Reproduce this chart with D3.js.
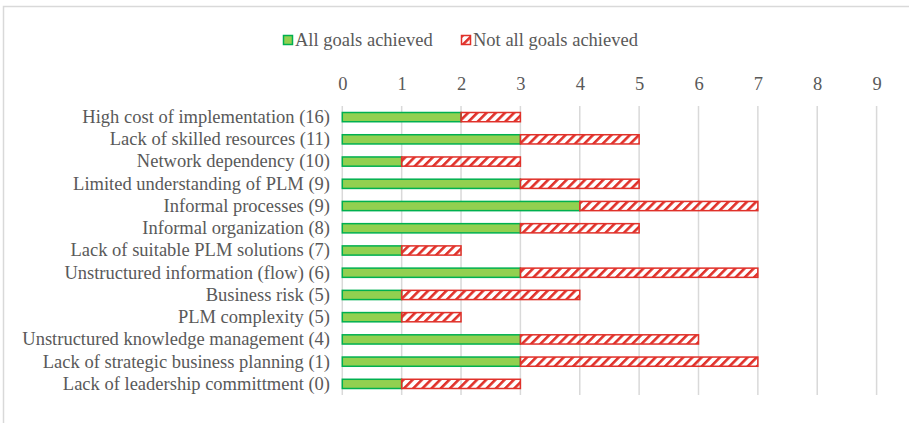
<!DOCTYPE html>
<html><head><meta charset="utf-8">
<script src="https://cdn.jsdelivr.net/npm/d3@7"></script>
<style>body{margin:0;background:#fff}svg{display:block}
svg text{font-family:"Liberation Serif","Times New Roman",Times,serif;}</style>
</head><body>
<script>
const categories = ["High cost of implementation (16)","Lack of skilled resources (11)","Network dependency (10)","Limited understanding of PLM (9)","Informal processes (9)","Informal organization (8)","Lack of suitable PLM solutions (7)","Unstructured information (flow) (6)","Business risk (5)","PLM complexity (5)","Unstructured knowledge management (4)","Lack of strategic business planning (1)","Lack of leadership committment (0)"];
const allGoals = [2,3,1,3,4,3,1,3,1,1,3,3,1];
const notAllGoals = [1,2,2,2,3,2,1,4,3,1,3,4,2];
const seriesNames = ["All goals achieved","Not all goals achieved"];
const ticks = [0,1,2,3,4,5,6,7,8,9];

const W=909,H=423;
const svg=d3.select("body").append("svg").attr("width",W).attr("height",H);
const txt="#595959", grid="#d9d9d9";
const green="#92D050", greenS="#00B050", red="#E0312A";
const fs=18.5;

const defs=svg.append("defs");
const pat=defs.append("pattern").attr("id","hatch").attr("patternUnits","userSpaceOnUse")
 .attr("width",6.5).attr("height",6.5).attr("patternTransform","rotate(45)");
pat.append("rect").attr("x",0).attr("y",0).attr("width",2.6).attr("height",6.5).attr("fill",red);

svg.append("rect").attr("x",3.5).attr("y",6.5).attr("width",W+10).attr("height",H+10)
 .attr("fill","none").attr("stroke",grid).attr("stroke-width",1.5);

const x=d3.scaleLinear().domain([0,9]).range([342.3,876.6]);
const y=d3.scaleBand().domain(categories).range([106,395]).paddingInner(0.54).paddingOuter(0.27);

svg.append("g").selectAll("line").data(ticks).join("line")
 .attr("x1",d=>x(d)).attr("x2",d=>x(d)).attr("y1",106).attr("y2",395)
 .attr("stroke",grid).attr("stroke-width",1.5);

const ax=svg.append("g").attr("transform","translate(0,84)")
 .call(d3.axisTop(x).tickValues(ticks).tickSize(0).tickPadding(0).tickFormat(d3.format("d")));
ax.attr("font-family",null).attr("font-size",null);
ax.select(".domain").remove();
ax.selectAll("text").attr("font-size",fs).attr("fill",txt).attr("dy","0.32em");

const ay=svg.append("g").attr("transform","translate(330,0)")
 .call(d3.axisLeft(y).tickSize(0).tickPadding(0));
ay.attr("font-family",null).attr("font-size",null);
ay.select(".domain").remove();
ay.selectAll("text").attr("font-size",fs).attr("fill",txt);

const bh=y.bandwidth();
svg.append("g").selectAll("rect").data(categories).join("rect")
 .attr("x",(d,i)=>x(0)).attr("y",d=>y(d)+0.5)
 .attr("width",(d,i)=>x(allGoals[i])-x(0)).attr("height",bh-1)
 .attr("fill",green).attr("stroke",greenS).attr("stroke-width",1.5);
svg.append("g").selectAll("rect").data(categories).join("rect")
 .attr("x",(d,i)=>x(allGoals[i])).attr("y",d=>y(d)+0.5)
 .attr("width",(d,i)=>x(allGoals[i]+notAllGoals[i])-x(allGoals[i])).attr("height",bh-1)
 .attr("fill","url(#hatch)").attr("stroke",red).attr("stroke-width",1.5);

const lg=svg.append("g");
const lx=[283.5,461.5];
lg.selectAll("rect").data(seriesNames).join("rect")
 .attr("x",(d,i)=>lx[i]).attr("y",35.5).attr("width",9).attr("height",9)
 .attr("fill",(d,i)=>i?"url(#hatch)":green).attr("stroke",(d,i)=>i?red:greenS).attr("stroke-width",1.5);
lg.selectAll("text").data(seriesNames).join("text")
 .attr("x",(d,i)=>lx[i]+11.5).attr("y",40).attr("dy","0.35em")
 .attr("font-size",fs).attr("fill",txt).text(d=>d);
</script>
</body></html>
